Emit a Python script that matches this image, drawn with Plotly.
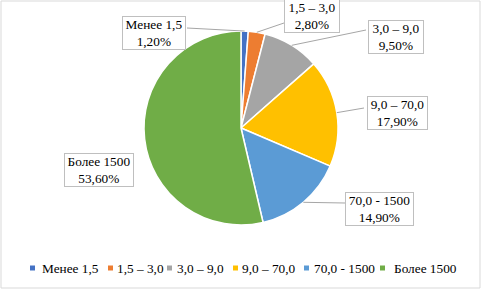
import math
import plotly.graph_objects as go

categories = ["Менее 1,5", "1,5 – 3,0", "3,0 – 9,0", "9,0 – 70,0", "70,0 - 1500", "Более 1500"]
shares = [1.20, 2.80, 9.50, 17.90, 14.90, 53.60]
share_labels = ["1,20%", "2,80%", "9,50%", "17,90%", "14,90%", "53,60%"]
colors = ["#4472C4", "#ED7D31", "#A5A5A5", "#FFC000", "#5B9BD5", "#70AD47"]

W, H = 482, 290
CX, CY, R = 241, 128, 97
FONT = "Liberation Serif"

def px(x):
    return x / W

def py(y):
    return 1 - y / H

fig = go.Figure()
fig.add_trace(go.Pie(
    labels=categories, values=shares, sort=False, direction="clockwise", rotation=0,
    marker=dict(colors=colors, line=dict(color="white", width=1.5)),
    textinfo="none", hoverinfo="label+percent", showlegend=False,
    domain=dict(x=[px(CX - R), px(CX + R)], y=[py(CY + R), py(CY - R)]),
))

# label boxes: (center x, center y, width, height) in px, and leader end point on box
boxes = [
    (154, 33, 64, 34, (187, 28)),
    (312, 16, 56, 34, (284, 23)),
    (396, 37, 56, 34, (366, 30)),
    (397, 113, 61, 34, (364, 108)),
    (379, 209, 69, 34, (345, 203)),
    (99, 170, 70, 34, None),
]

shapes = []
annotations = []
total = sum(shares)
cum = 0.0
for cat, val, lab, box in zip(categories, shares, share_labels, boxes):
    mid = (cum + val / 2) / total * 2 * math.pi
    cum += val
    sx = CX + R * math.sin(mid)
    sy = CY - R * math.cos(mid)
    bx, by, bw, bh, end = box
    if end is not None:
        shapes.append(dict(type="line", xref="paper", yref="paper",
                           x0=px(sx), y0=py(sy), x1=px(end[0]), y1=py(end[1]),
                           line=dict(color="#A6A6A6", width=1)))
    annotations.append(dict(
        x=px(bx), y=py(by), xref="paper", yref="paper", xanchor="center", yanchor="middle",
        text=f"{cat}<br>{lab}", showarrow=False, align="center",
        font=dict(family=FONT, size=13.3, color="#000000"),
        bgcolor="white", bordercolor="#BFBFBF", borderwidth=1, borderpad=0,
        width=bw - 2, height=bh - 2,
    ))

# legend (drawn manually)
legend_pos = [(30, 40), (108, 115), (167, 175), (233, 240), (304, 312), (380, 392)]
LY = 268
for cat, col, (mx, tx) in zip(categories, colors, legend_pos):
    shapes.append(dict(type="rect", xref="paper", yref="paper",
                       x0=px(mx), x1=px(mx + 5), y0=py(LY + 2.5), y1=py(LY - 2.5),
                       fillcolor=col, line=dict(width=0)))
    annotations.append(dict(x=px(tx), y=py(LY), xref="paper", yref="paper",
                            xanchor="left", yanchor="middle", text=cat, showarrow=False,
                            font=dict(family=FONT, size=13.3, color="#000000")))

# outer frame
shapes.append(dict(type="rect", xref="paper", yref="paper",
                   x0=px(1), x1=px(480), y0=py(288), y1=py(1),
                   line=dict(color="#D9D9D9", width=1), fillcolor="rgba(0,0,0,0)"))

fig.update_layout(
    width=W, height=H, margin=dict(l=0, r=0, t=0, b=0),
    paper_bgcolor="white", plot_bgcolor="white",
    font=dict(family=FONT),
    shapes=shapes, annotations=annotations, showlegend=False,
)

fig.write_html("out.html", config={"displayModeBar": False},
               post_script="document.body.style.margin='0px';")
